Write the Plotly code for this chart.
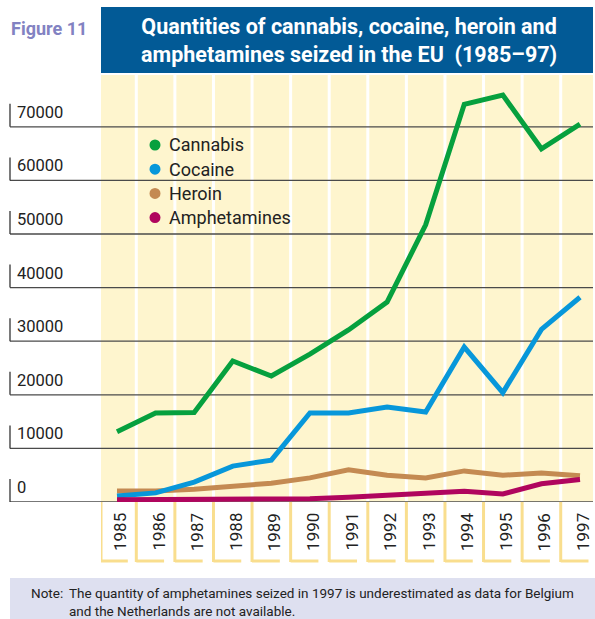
import plotly.graph_objects as go

# values (seizures, kg)
years = list(range(1985, 1998))
cannabis = [13100, 16600, 16700, 26300, 23500, 27600, 32100, 37300, 51700, 74200, 75900, 65900, 70500]
cocaine = [1100, 1700, 3700, 6700, 7800, 16600, 16600, 17700, 16800, 28900, 20400, 32200, 38200]
heroin = [2050, 2050, 2400, 3000, 3500, 4500, 6000, 5000, 4500, 5800, 5000, 5400, 4900]
amphetamines = [400, 450, 500, 500, 500, 600, 900, 1300, 1700, 2000, 1500, 3400, 4200]
y_ticks = [0, 10000, 20000, 30000, 40000, 50000, 60000, 70000]

series = [
    ("Heroin", heroin, "#C48A52"),
    ("Cocaine", cocaine, "#0797DA"),
    ("Amphetamines", amphetamines, "#B0055E"),
    ("Cannabis", cannabis, "#06A03E"),
]
legend_order = ["Cannabis", "Cocaine", "Heroin", "Amphetamines"]

W, H = 595, 619
FONT = "Roboto, Liberation Sans, sans-serif"
YELLOW_BG = "#FEF5CE"
YELLOW_LINE = "#F9DE8E"
TITLE_BLUE = "#025A96"


def px(x):
    return x / W


def py(y):
    return 1 - y / H


fig = go.Figure()

for name, vals, col in series:
    fig.add_trace(go.Scatter(
        x=years, y=vals, mode="lines", name=name,
        line=dict(color=col, width=5), showlegend=False, hoverinfo="skip",
    ))

shapes = []
# white column stripes between years
for yr in years[:-1]:
    shapes.append(dict(type="line", xref="x", yref="paper", x0=yr + 0.5, x1=yr + 0.5,
                       y0=py(502), y1=py(75), line=dict(color="white", width=3), layer="below"))
# horizontal rules, running out to the tick labels
for v in y_ticks:
    shapes.append(dict(type="line", xref="paper", yref="y", x0=px(10), x1=px(593), y0=v, y1=v,
                       line=dict(color="#4a4a4a", width=1.3), layer="below"))
    shapes.append(dict(type="line", xref="paper", yref="y", x0=px(10), x1=px(10),
                       ysizemode="pixel", yanchor=v, y0=0, y1=23,
                       line=dict(color="#333", width=1.3), layer="below"))
# year label boxes
for i, yr in enumerate(years):
    left = yr - 0.5 if i > 0 else 1984.585
    right = yr + 0.22 if i > 0 else yr + 0.28
    shapes.append(dict(type="line", xref="x", yref="paper", x0=left, x1=left,
                       y0=py(502), y1=py(562), line=dict(color=YELLOW_LINE, width=3), layer="below"))
    shapes.append(dict(type="line", xref="x", yref="paper", x0=left, x1=right,
                       y0=py(561), y1=py(561), line=dict(color=YELLOW_LINE, width=3), layer="below"))
# title box and note box
shapes.append(dict(type="rect", xref="paper", yref="paper", x0=px(101), x1=px(593),
                   y0=py(73), y1=py(7), fillcolor=TITLE_BLUE, line=dict(width=0), layer="below"))
shapes.append(dict(type="rect", xref="paper", yref="paper", x0=px(10), x1=1,
                   y0=0, y1=py(578), fillcolor="#DEE0F0", line=dict(width=0), layer="below"))

annotations = []
# legend: dots plus names
colours = {n: c for n, _, c in series}
for i, name in enumerate(legend_order):
    cy = 145 + i * 24.2
    shapes.append(dict(type="circle", xref="paper", yref="paper",
                       x0=px(149.5), x1=px(160.5), y0=py(cy - 5.5), y1=py(cy + 5.5),
                       fillcolor=colours[name], line=dict(width=0)))
    annotations.append(dict(xref="paper", yref="paper", x=px(167), y=py(cy), text=name,
                            showarrow=False, xanchor="left", yanchor="middle",
                            font=dict(family=FONT, size=18, color="#222")))

for v in y_ticks:
    annotations.append(dict(xref="paper", yref="y", x=px(15), y=v, yshift=3,
                            text=f"{v}", showarrow=False, xanchor="left", yanchor="bottom",
                            font=dict(family=FONT, size=16.5, color="#222")))
for yr in years:
    annotations.append(dict(xref="x", yref="paper", x=yr, y=py(532), xshift=3,
                            text=str(yr), textangle=-90, showarrow=False,
                            xanchor="center", yanchor="middle",
                            font=dict(family=FONT, size=17, color="#222")))
annotations.append(dict(xref="paper", yref="paper", x=px(9), y=py(28), text="<b>Figure 11</b>",
                        showarrow=False, xanchor="left", yanchor="middle",
                        font=dict(family=FONT, size=18, color="#8282C2")))
annotations.append(dict(xref="paper", yref="paper", x=px(349), y=py(41),
                        text="<b>Quantities of cannabis, cocaine, heroin and<br>"
                             "amphetamines seized in the EU  (1985\u201397)</b>",
                        showarrow=False, xanchor="center", yanchor="middle",
                        font=dict(family=FONT, size=21.5, color="white")))
annotations.append(dict(xref="paper", yref="paper", x=px(29), y=py(593), text="Note:",
                        showarrow=False, xanchor="left", yanchor="middle",
                        font=dict(family=FONT, size=13.5, color="#222")))
annotations.append(dict(xref="paper", yref="paper", x=px(67), y=py(602),
                        text="The quantity of amphetamines seized in 1997 is underestimated as data for Belgium<br>"
                             "and the Netherlands are not available.",
                        showarrow=False, xanchor="left", yanchor="middle", align="left",
                        font=dict(family=FONT, size=13.5, color="#222")))

fig.update_layout(
    width=W, height=H,
    margin=dict(l=0, r=0, t=0, b=0),
    paper_bgcolor="white",
    plot_bgcolor=YELLOW_BG,
    xaxis=dict(domain=[px(101), px(593)], range=[1984.585, 1997.337], showgrid=False,
               showticklabels=False, zeroline=False, ticks=""),
    yaxis=dict(domain=[py(502), py(75)], range=[0, 79660], showgrid=False,
               showticklabels=False, zeroline=False, ticks=""),
    shapes=shapes,
    annotations=annotations,
    showlegend=False,
)

# page body has an 8px default margin; drop it so the figure fills the window
fig.write_html("out.html", config={"displayModeBar": False},
               post_script="document.body.style.margin='0';")
